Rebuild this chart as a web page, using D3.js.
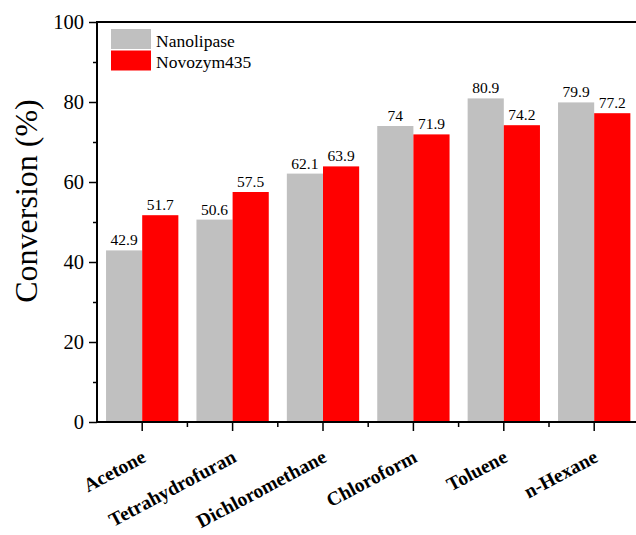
<!DOCTYPE html>
<html><head><meta charset="utf-8">
<script src="https://cdn.jsdelivr.net/npm/d3@7"></script>
<style>body{margin:0;background:#fff}svg{display:block}svg text{font-family:"Liberation Serif","Times New Roman",serif}</style>
</head><body>
<svg id="c" width="636" height="535"></svg>
<script>
const categories = ["Acetone","Tetrahydrofuran","Dichloromethane","Chloroform","Toluene","n-Hexane"];
const seriesNames = ["Nanolipase","Novozym435"];
const nanolipase = [42.9,50.6,62.1,74,80.9,79.9];
const novozym = [51.7,57.5,63.9,71.9,74.2,77.2];
const yTicks = [0,20,40,60,80,100];
const yMinorTicks = [10,30,50,70,90];
const colors = ["#c0c0c0","#ff0000"];

const svg = d3.select("#c");
const mLeft = 97, mRight = 639.4, mTop = 22, mBottom = 422;
const x = d3.scaleBand().domain(categories).range([mLeft,mRight]).padding(0);
const x1 = d3.scaleBand().domain(seriesNames).range([0,x.bandwidth()]).paddingInner(0).paddingOuter(0.25);
const y = d3.scaleLinear().domain([0,100]).range([mBottom,mTop]);
const seriesVals = [nanolipase, novozym];
const font = '"Liberation Serif","Times New Roman",serif';

// bars
const groups = svg.append("g").selectAll("g").data(categories).join("g")
  .attr("transform", d => `translate(${x(d)},0)`);
groups.selectAll("rect").data((d,i)=>seriesNames.map((s,j)=>({s,v:seriesVals[j][i],j})))
  .join("rect")
  .attr("x", d=>x1(d.s)).attr("width", x1.bandwidth())
  .attr("y", d=>y(d.v)).attr("height", d=>mBottom-y(d.v))
  .attr("fill", d=>colors[d.j]);
groups.selectAll("text").data((d,i)=>seriesNames.map((s,j)=>({s,v:seriesVals[j][i],j})))
  .join("text")
  .attr("x", d=>x1(d.s)+x1.bandwidth()/2).attr("y", d=>y(d.v)-5)
  .attr("text-anchor","middle").style("font-family",font).style("font-size","15.5px")
  .text(d=>d.v);

// y axis
const ya = svg.append("g").attr("transform",`translate(${mLeft},0)`)
  .call(d3.axisLeft(y).tickValues(yTicks).tickSize(8).tickPadding(5).tickFormat(d3.format("d")));
ya.select(".domain").remove();
ya.selectAll("text").style("font-family",font).style("font-size","20.5px").attr("fill","#000");
ya.selectAll("line").attr("stroke","#000").attr("stroke-width",1.5);
const ym = svg.append("g").attr("transform",`translate(${mLeft},0)`)
  .call(d3.axisLeft(y).tickValues(yMinorTicks).tickSize(4).tickFormat(""));
ym.select(".domain").remove();
ym.selectAll("line").attr("stroke","#000").attr("stroke-width",1.5);

// x axis
const xa = svg.append("g").attr("transform",`translate(0,${mBottom})`)
  .call(d3.axisBottom(x).tickSize(9).tickFormat(""));
xa.select(".domain").remove();
xa.selectAll("line").attr("stroke","#000").attr("stroke-width",1.5);
const xm = svg.append("g").attr("transform",`translate(0,${mBottom})`);
xm.selectAll("line").data(categories.slice(1)).join("line")
  .attr("x1",d=>x(d)).attr("x2",d=>x(d)).attr("y1",0).attr("y2",5)
  .attr("stroke","#000").attr("stroke-width",1.5);
svg.append("g").selectAll("text").data(categories).join("text")
  .attr("transform", d=>`translate(${x(d)+x.bandwidth()/2+5},${mBottom+39}) rotate(-28)`)
  .attr("text-anchor","end").style("font-family",font).style("font-weight","bold").style("font-size","19.5px")
  .text(d=>d);

// frame lines
svg.append("line").attr("x1",mLeft).attr("x2",mLeft).attr("y1",mTop).attr("y2",mBottom)
  .attr("stroke","#000").attr("stroke-width",2);
svg.append("line").attr("x1",mLeft-1).attr("x2",636).attr("y1",mBottom).attr("y2",mBottom)
  .attr("stroke","#000").attr("stroke-width",2);
svg.append("line").attr("x1",mLeft-1).attr("x2",636).attr("y1",mTop).attr("y2",mTop)
  .attr("stroke","#000").attr("stroke-width",2);

// y title
svg.append("text").attr("transform",`translate(37,201) rotate(-90)`)
  .attr("text-anchor","middle").style("font-family",font).style("font-size","32px")
  .text("Conversion (%)");

// legend
const lg = svg.append("g").attr("transform","translate(111,29)");
seriesNames.forEach((s,i)=>{
  lg.append("rect").attr("x",0).attr("y",i*21.5).attr("width",40).attr("height",20).attr("fill",colors[i]);
  lg.append("text").attr("x",45).attr("y",i*21+17.5).style("font-family",font).style("font-size","17.5px").text(s);
});
</script>
</body></html>
